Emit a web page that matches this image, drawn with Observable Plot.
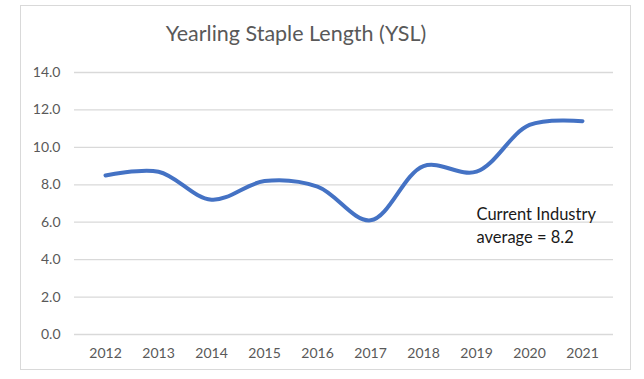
<!DOCTYPE html>
<html>
<head>
<meta charset="utf-8">
<script src="https://cdn.jsdelivr.net/npm/d3@7"></script>
<script src="https://cdn.jsdelivr.net/npm/@observablehq/plot@0.6"></script>
<style>
  html, body { margin: 0; padding: 0; background: #fff; }
  #wrap { position: relative; width: 644px; height: 379px; overflow: hidden; font-family: Lato, "Open Sans", sans-serif; }
  #frame { position: absolute; left: 20px; top: 5px; width: 611px; height: 365px; border: 1.5px solid #D9D9D9; box-sizing: border-box; }
  #title { position: absolute; left: 0; width: 592px; top: 20px; text-align: center; font-size: 21.5px; color: #595959; }
  #chart { position: absolute; left: 0; top: 0; }
</style>
</head>
<body>
<div id="wrap">
  <div id="frame"></div>
  <div id="title">Yearling Staple Length (YSL)</div>
  <div id="chart"></div>
</div>
<script>
const years = ["2012","2013","2014","2015","2016","2017","2018","2019","2020","2021"];
const ysl = [8.5, 8.7, 7.2, 8.2, 7.9, 6.1, 9.0, 8.7, 11.2, 11.4];
const yTicks = [0, 2, 4, 6, 8, 10, 12, 14];
const noteText = "Current Industry\naverage = 8.2";
const noteAnchor = {year: "2019", value: 6.95};

const data = years.map((y, i) => ({year: y, value: ysl[i]}));

const plot = Plot.plot({
  width: 644,
  height: 379,
  marginLeft: 74,
  marginRight: 31,
  marginTop: 72,
  marginBottom: 45,
  style: {fontFamily: "Lato, 'Open Sans', sans-serif", background: "transparent"},
  x: {type: "point", domain: years, padding: 0.5, label: null},
  y: {domain: [0, 14], label: null},
  marks: [
    Plot.ruleY(yTicks, {stroke: "#D9D9D9", strokeWidth: 1.3}),
    Plot.axisX({tickSize: 0, tickPadding: 14, fontSize: 14, color: "#595959"}),
    Plot.axisY({ticks: yTicks, tickFormat: d3.format(".1f"), tickSize: 0, tickPadding: 14, fontSize: 14, color: "#595959"}),
    Plot.line(data, {x: "year", y: "value", curve: "catmull-rom", stroke: "#4472C4", strokeWidth: 4, strokeLinecap: "round"}),
    Plot.text([noteAnchor], {x: "year", y: "value", text: () => noteText, textAnchor: "start", lineAnchor: "top", fontSize: 16.5, lineHeight: 1.37, fill: "#1a1a1a"})
  ]
});
document.getElementById("chart").appendChild(plot);
</script>
</body>
</html>
